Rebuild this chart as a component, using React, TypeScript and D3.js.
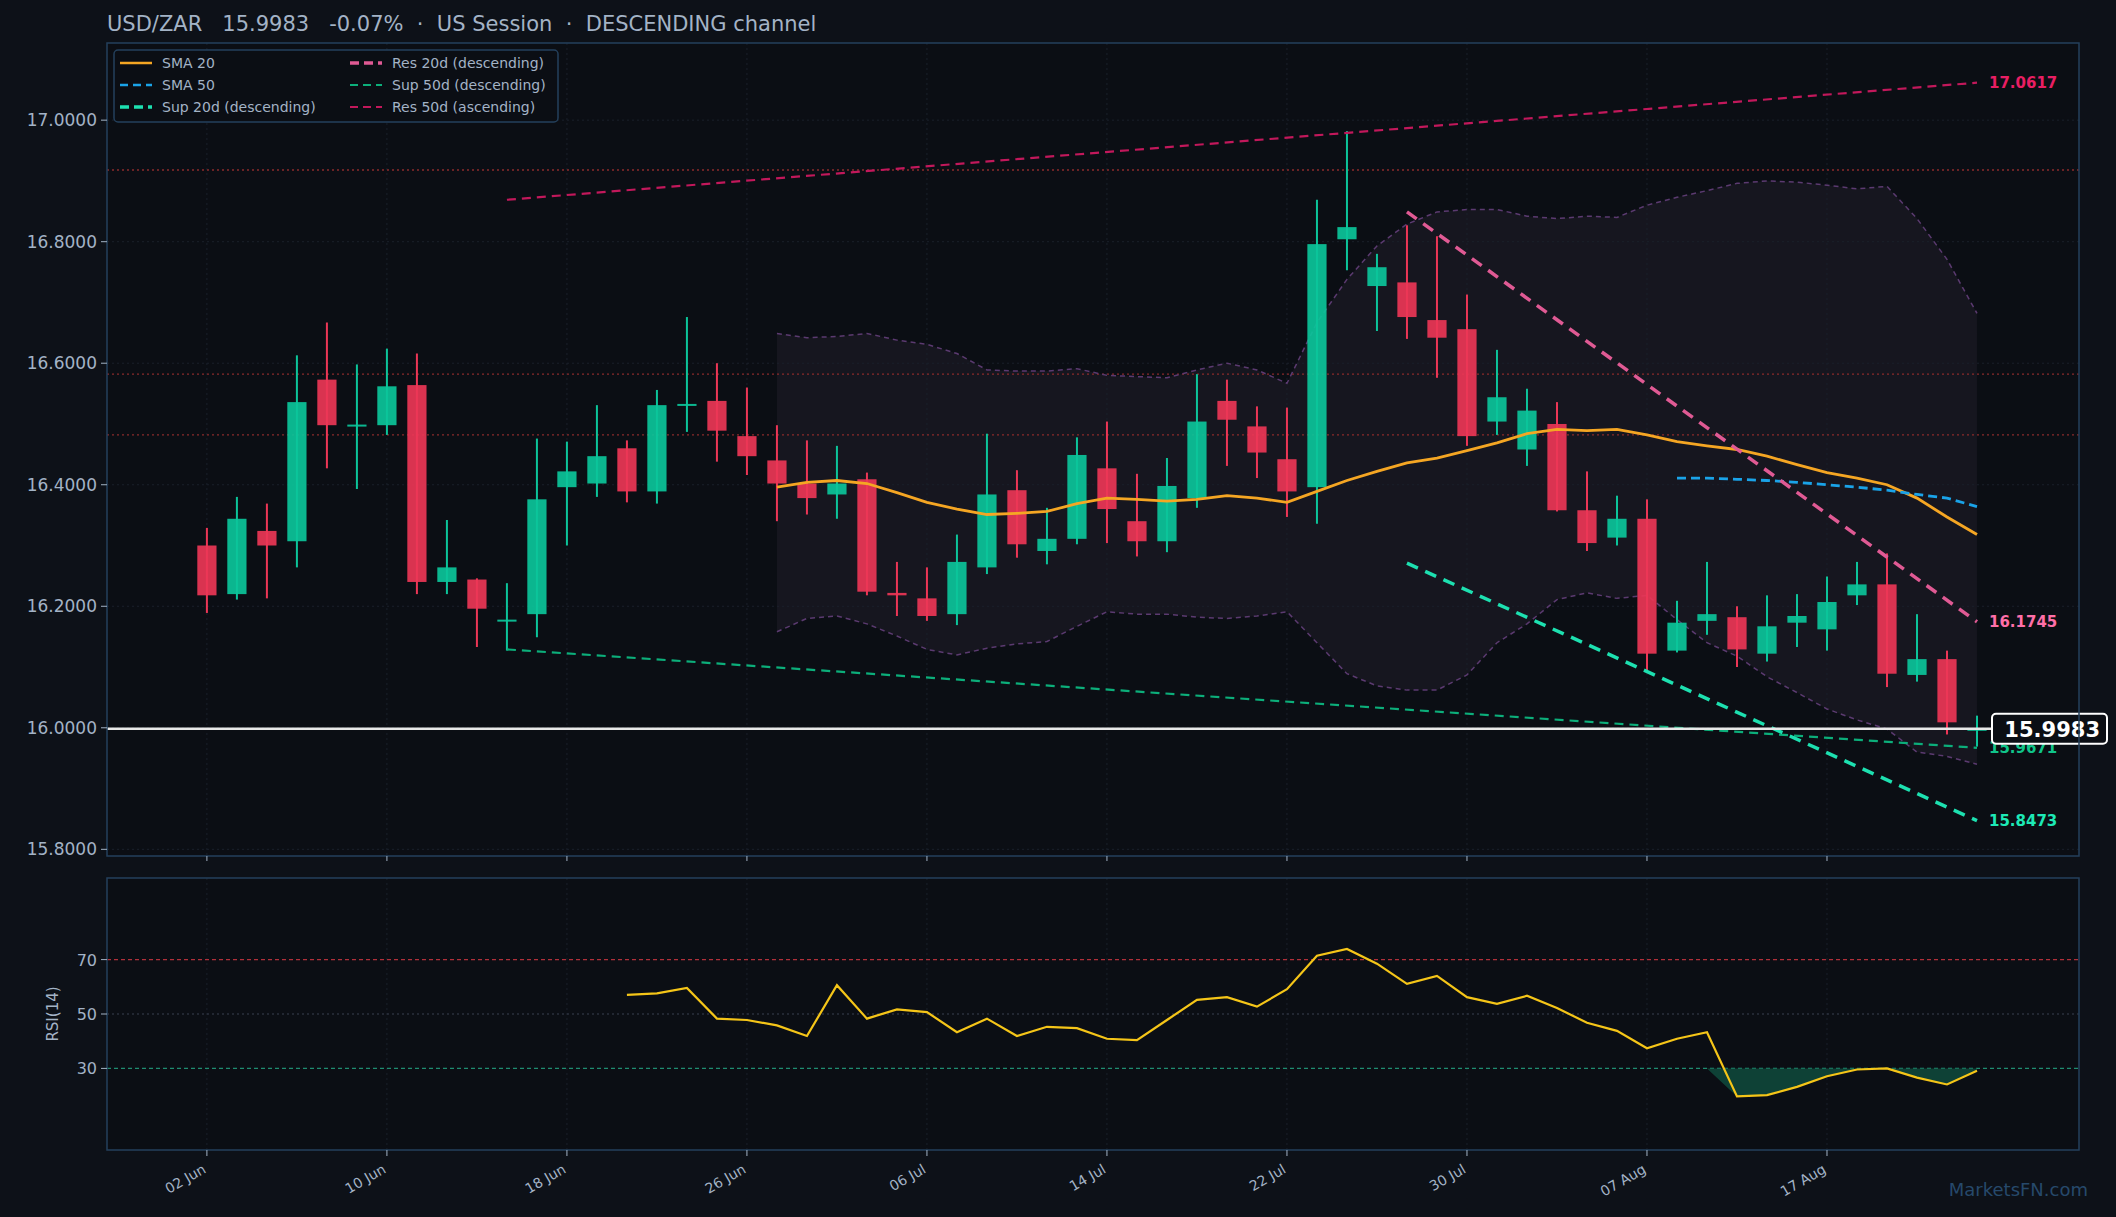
import * as d3 from "d3";

const opens = [16.300,16.220,16.324,16.307,16.573,16.496,16.498,16.564,16.240,16.244,16.176,16.187,16.396,16.402,16.460,16.389,16.531,16.538,16.480,16.440,16.402,16.384,16.409,16.222,16.213,16.187,16.264,16.391,16.291,16.311,16.427,16.340,16.307,16.378,16.538,16.496,16.442,16.396,16.804,16.727,16.733,16.671,16.656,16.504,16.458,16.500,16.358,16.313,16.344,16.127,16.176,16.182,16.122,16.173,16.162,16.218,16.236,16.087,16.113,15.996];
const closes = [16.218,16.344,16.300,16.536,16.498,16.499,16.562,16.240,16.264,16.196,16.178,16.376,16.422,16.447,16.389,16.531,16.533,16.489,16.447,16.402,16.378,16.402,16.224,16.218,16.184,16.273,16.384,16.302,16.311,16.449,16.360,16.307,16.398,16.504,16.507,16.453,16.389,16.796,16.824,16.758,16.676,16.642,16.480,16.544,16.522,16.358,16.304,16.344,16.122,16.173,16.187,16.129,16.167,16.184,16.207,16.236,16.089,16.113,16.009,15.9983];
const highs = [16.329,16.380,16.369,16.613,16.667,16.598,16.624,16.616,16.342,16.246,16.238,16.476,16.471,16.531,16.473,16.556,16.676,16.600,16.560,16.498,16.473,16.464,16.420,16.273,16.264,16.318,16.484,16.424,16.362,16.478,16.504,16.418,16.444,16.582,16.573,16.529,16.527,16.869,16.982,16.780,16.827,16.809,16.713,16.622,16.558,16.536,16.422,16.382,16.376,16.209,16.273,16.200,16.218,16.220,16.249,16.273,16.287,16.187,16.127,16.020];
const lows = [16.189,16.211,16.213,16.264,16.427,16.393,16.482,16.220,16.220,16.133,16.127,16.149,16.300,16.380,16.371,16.369,16.487,16.438,16.416,16.340,16.351,16.344,16.218,16.184,16.176,16.169,16.253,16.280,16.269,16.302,16.304,16.282,16.289,16.362,16.431,16.411,16.347,16.336,16.753,16.653,16.640,16.576,16.464,16.482,16.431,16.356,16.291,16.300,16.093,16.124,16.153,16.100,16.109,16.133,16.127,16.202,16.067,16.076,15.989,15.969];

// starts at candle 19
const sma20 = [16.396,16.404,16.407,16.402,16.387,16.371,16.360,16.351,16.353,16.356,16.369,16.378,16.376,16.373,16.376,16.382,16.378,16.371,16.389,16.407,16.422,16.436,16.444,16.456,16.469,16.484,16.491,16.489,16.491,16.482,16.471,16.464,16.458,16.447,16.433,16.420,16.411,16.400,16.378,16.347,16.318];
const bbUpper = [16.649,16.642,16.644,16.649,16.638,16.631,16.616,16.589,16.587,16.587,16.591,16.580,16.578,16.576,16.589,16.600,16.589,16.567,16.667,16.738,16.793,16.829,16.849,16.853,16.853,16.842,16.838,16.842,16.840,16.860,16.873,16.884,16.896,16.900,16.898,16.893,16.887,16.891,16.838,16.771,16.682];
const bbLower = [16.158,16.180,16.184,16.171,16.151,16.129,16.120,16.131,16.138,16.142,16.167,16.191,16.187,16.187,16.182,16.180,16.184,16.191,16.140,16.089,16.069,16.062,16.062,16.087,16.140,16.171,16.211,16.222,16.213,16.218,16.178,16.140,16.118,16.084,16.058,16.031,16.013,15.998,15.960,15.953,15.940];
// starts at candle 49
const sma50 = [16.411,16.411,16.409,16.407,16.404,16.400,16.396,16.391,16.384,16.378,16.364];
// starts at candle 14
const rsi = [57,57.6,59.6,48.3,47.8,45.8,41.9,60.6,48.3,51.7,50.7,43.3,48.3,41.9,45.3,44.8,40.9,40.4,47.8,55.2,56.2,52.7,59.1,71.4,73.9,68.5,61.1,64,56.2,53.7,56.7,52.2,46.8,43.8,37.4,40.9,43.3,19.7,20.2,23.2,27.1,29.6,30,26.6,24.1,29.1];

const xTickIdx = [0, 6, 12, 18, 24, 30, 36, 42, 48, 54];
const xTickLabels = ["02 Jun", "10 Jun", "18 Jun", "26 Jun", "06 Jul", "14 Jul", "22 Jul", "30 Jul", "07 Aug", "17 Aug"];
const yTicks = [15.8, 16.0, 16.2, 16.4, 16.6, 16.8, 17.0];
const hLevels = [16.918, 16.582, 16.482];

const trendLines = [
  { name: "Res 50d (ascending)", i0: 10, v0: 16.869, i1: 59, v1: 17.0617, color: "#c2185b", w: 2.2, dash: "9 6", label: "17.0617", lc: "#e91e63" },
  { name: "Sup 50d (descending)", i0: 10, v0: 16.129, i1: 59, v1: 15.9671, color: "#0cae7a", w: 2.2, dash: "9 6", label: "15.9671", lc: "#10c48a" },
  { name: "Res 20d (descending)", i0: 40, v0: 16.849, i1: 59, v1: 16.1745, color: "#e05a94", w: 3.5, dash: "12 8", label: "16.1745", lc: "#ff6fa8" },
  { name: "Sup 20d (descending)", i0: 40, v0: 16.271, i1: 59, v1: 15.8473, color: "#1de0b0", w: 3.5, dash: "12 8", label: "15.8473", lc: "#1de9b6" },
];

const W = 2116, H = 1217;
const L = 107, R = 2079, T = 43, B = 856, RT = 878, RB = 1150;
const UP = "#0cc49a", DN = "#ec3656";
const TXT = "#a3b3c6";
const FONT = "DejaVu Sans, sans-serif";

export default function App() {
  const x = d3.scaleLinear().domain([-3.33, 62.4]).range([L, R]);
  const y = d3.scaleLinear().domain([15.789, 17.127]).range([B, T]);
  const ry = d3.scaleLinear().domain([0, 100]).range([RB, RT]);
  const bw = (x(1) - x(0)) * 0.64;

  const line = d3.line<number>().x((_, i) => x(i + 19)).y((d) => y(d));
  const smaPath = line(sma20)!;
  const upPath = line(bbUpper)!;
  const loPath = line(bbLower)!;
  const band = d3.area<number>().x((_, i) => x(i + 19)).y0((_, i) => y(bbLower[i])).y1((d) => y(d))(bbUpper)!;
  const sma50Path = d3.line<number>().x((_, i) => x(i + 49)).y((d) => y(d))(sma50)!;
  const rsiPath = d3.line<number>().x((_, i) => x(i + 14)).y((d) => ry(d))(rsi)!;
  const rsiFill = d3.area<number>().x((_, i) => x(i + 14)).y0(ry(30)).y1((d) => ry(Math.min(d, 30)))(rsi)!;
  const last = closes[closes.length - 1];

  const legend = [
    { n: "SMA 20", c: "#f5a623", dash: "", w: 2.5 },
    { n: "SMA 50", c: "#1aa3e8", dash: "8 5", w: 2.5 },
    { n: "Sup 20d (descending)", c: "#1de0b0", dash: "9 5", w: 3.5 },
    { n: "Res 20d (descending)", c: "#e05a94", dash: "9 5", w: 3.5 },
    { n: "Sup 50d (descending)", c: "#0cae7a", dash: "8 5", w: 2.2 },
    { n: "Res 50d (ascending)", c: "#c2185b", dash: "8 5", w: 2.2 },
  ];

  return (
    <svg width={W} height={H} style={{ position: "absolute", left: 0, top: 0, background: "#0d1118" }} fontFamily={FONT}>
      <rect x={0} y={0} width={W} height={H} fill="#0d1118" />
      <text x={L} y={31} fill={TXT} fontSize={21} style={{ whiteSpace: "pre" }}>USD/ZAR   15.9983   -0.07%  ·  US Session  ·  DESCENDING channel</text>

      {/* price panel */}
      <rect x={L} y={T} width={R - L} height={B - T} fill="#0b0e14" />
      <path d={band} fill="#16161f" />
      {xTickIdx.map((i) => (
        <line key={"vg" + i} x1={x(i)} x2={x(i)} y1={T} y2={B} stroke="#1a202b" strokeDasharray="2 3" />
      ))}
      {yTicks.map((t) => (
        <line key={"hg" + t} x1={L} x2={R} y1={y(t)} y2={y(t)} stroke="#1a202b" strokeDasharray="2 3" />
      ))}
      {hLevels.map((v) => (
        <line key={"hl" + v} x1={L} x2={R} y1={y(v)} y2={y(v)} stroke="#8a2b2b" strokeWidth={1.3} strokeDasharray="2 3" />
      ))}
      <path d={upPath} fill="none" stroke="#5b3a70" strokeWidth={1.5} strokeDasharray="5 4" />
      <path d={loPath} fill="none" stroke="#5b3a70" strokeWidth={1.5} strokeDasharray="5 4" />

      {opens.map((o, i) => {
        const c = closes[i];
        const col = c >= o ? UP : DN;
        const top = y(Math.max(o, c));
        const h = Math.max(Math.abs(y(o) - y(c)), 2);
        return (
          <g key={"c" + i}>
            <line x1={x(i)} x2={x(i)} y1={y(highs[i])} y2={y(lows[i])} stroke={col} strokeWidth={2} />
            <rect x={x(i) - bw / 2} y={top} width={bw} height={h} fill={col} fillOpacity={0.92} />
          </g>
        );
      })}

      <path d={smaPath} fill="none" stroke="#f5a623" strokeWidth={2.8} />
      <path d={sma50Path} fill="none" stroke="#1aa3e8" strokeWidth={2.8} strokeDasharray="9 5" />
      {trendLines.map((tl) => (
        <g key={tl.name}>
          <line x1={x(tl.i0)} y1={y(tl.v0)} x2={x(tl.i1)} y2={y(tl.v1)} stroke={tl.color} strokeWidth={tl.w} strokeDasharray={tl.dash} />
          <text x={x(59) + 12} y={y(tl.v1) + 5} fill={tl.lc} fontSize={15} fontWeight="bold">{tl.label}</text>
        </g>
      ))}
      <line x1={L} x2={R} y1={y(last)} y2={y(last)} stroke="#e8e8e8" strokeWidth={2.5} />
      <rect x={1992} y={y(last) - 15} width={115} height={30} rx={4} fill="#0b0e14" stroke="#ffffff" strokeWidth={2} />
      <text x={2100} y={y(last) + 8} fill="#ffffff" fontSize={21} fontWeight="bold" textAnchor="end">15.9983</text>
      <rect x={L} y={T} width={R - L} height={B - T} fill="none" stroke="#24405c" strokeWidth={1.5} />

      {yTicks.map((t) => (
        <g key={"yt" + t}>
          <line x1={L - 6} x2={L} y1={y(t)} y2={y(t)} stroke={TXT} />
          <text x={L - 10} y={y(t) + 6} fill={TXT} fontSize={17} textAnchor="end">{t.toFixed(4)}</text>
        </g>
      ))}
      {xTickIdx.map((i) => (
        <line key={"xt" + i} x1={x(i)} x2={x(i)} y1={B} y2={B + 5} stroke={TXT} />
      ))}

      {/* legend */}
      <rect x={114} y={50} width={444} height={72} rx={4} fill="#0b0e14" stroke="#24405c" strokeWidth={1.5} />
      {legend.map((lg, k) => {
        const col = Math.floor(k / 3), row = k % 3;
        const lx = 120 + col * 230, ly = 63 + row * 22;
        return (
          <g key={lg.n}>
            <line x1={lx} x2={lx + 32} y1={ly} y2={ly} stroke={lg.c} strokeWidth={lg.w} strokeDasharray={lg.dash} />
            <text x={lx + 42} y={ly + 5} fill={TXT} fontSize={14}>{lg.n}</text>
          </g>
        );
      })}

      {/* RSI panel */}
      <rect x={L} y={RT} width={R - L} height={RB - RT} fill="#0b0e14" />
      {xTickIdx.map((i) => (
        <line key={"rvg" + i} x1={x(i)} x2={x(i)} y1={RT} y2={RB} stroke="#1a202b" strokeDasharray="2 3" />
      ))}
      <line x1={L} x2={R} y1={ry(70)} y2={ry(70)} stroke="#b0303a" strokeWidth={1.3} strokeDasharray="4 3" />
      <line x1={L} x2={R} y1={ry(50)} y2={ry(50)} stroke="#3a4150" strokeWidth={1.2} strokeDasharray="2 3" />
      <line x1={L} x2={R} y1={ry(30)} y2={ry(30)} stroke="#1f8c70" strokeWidth={1.3} strokeDasharray="4 3" />
      <path d={rsiFill} fill="#0f4a3c" fillOpacity={0.85} />
      <path d={rsiPath} fill="none" stroke="#f5c518" strokeWidth={2.2} />
      <rect x={L} y={RT} width={R - L} height={RB - RT} fill="none" stroke="#24405c" strokeWidth={1.5} />
      {[30, 50, 70].map((t) => (
        <g key={"ry" + t}>
          <line x1={L - 6} x2={L} y1={ry(t)} y2={ry(t)} stroke={TXT} />
          <text x={L - 10} y={ry(t) + 6} fill={TXT} fontSize={16} textAnchor="end">{t}</text>
        </g>
      ))}
      <text transform={`translate(58,${(RT + RB) / 2}) rotate(-90)`} fill={TXT} fontSize={15} textAnchor="middle">RSI(14)</text>
      {xTickIdx.map((i, k) => (
        <g key={"rx" + i}>
          <line x1={x(i)} x2={x(i)} y1={RB} y2={RB + 6} stroke={TXT} />
          <text transform={`translate(${x(i)},${RB + 22}) rotate(-30)`} fill={TXT} fontSize={14} textAnchor="end">{xTickLabels[k]}</text>
        </g>
      ))}
      <text x={2088} y={1196} fill="#26496b" fontSize={18} textAnchor="end">MarketsFN.com</text>
    </svg>
  );
}
